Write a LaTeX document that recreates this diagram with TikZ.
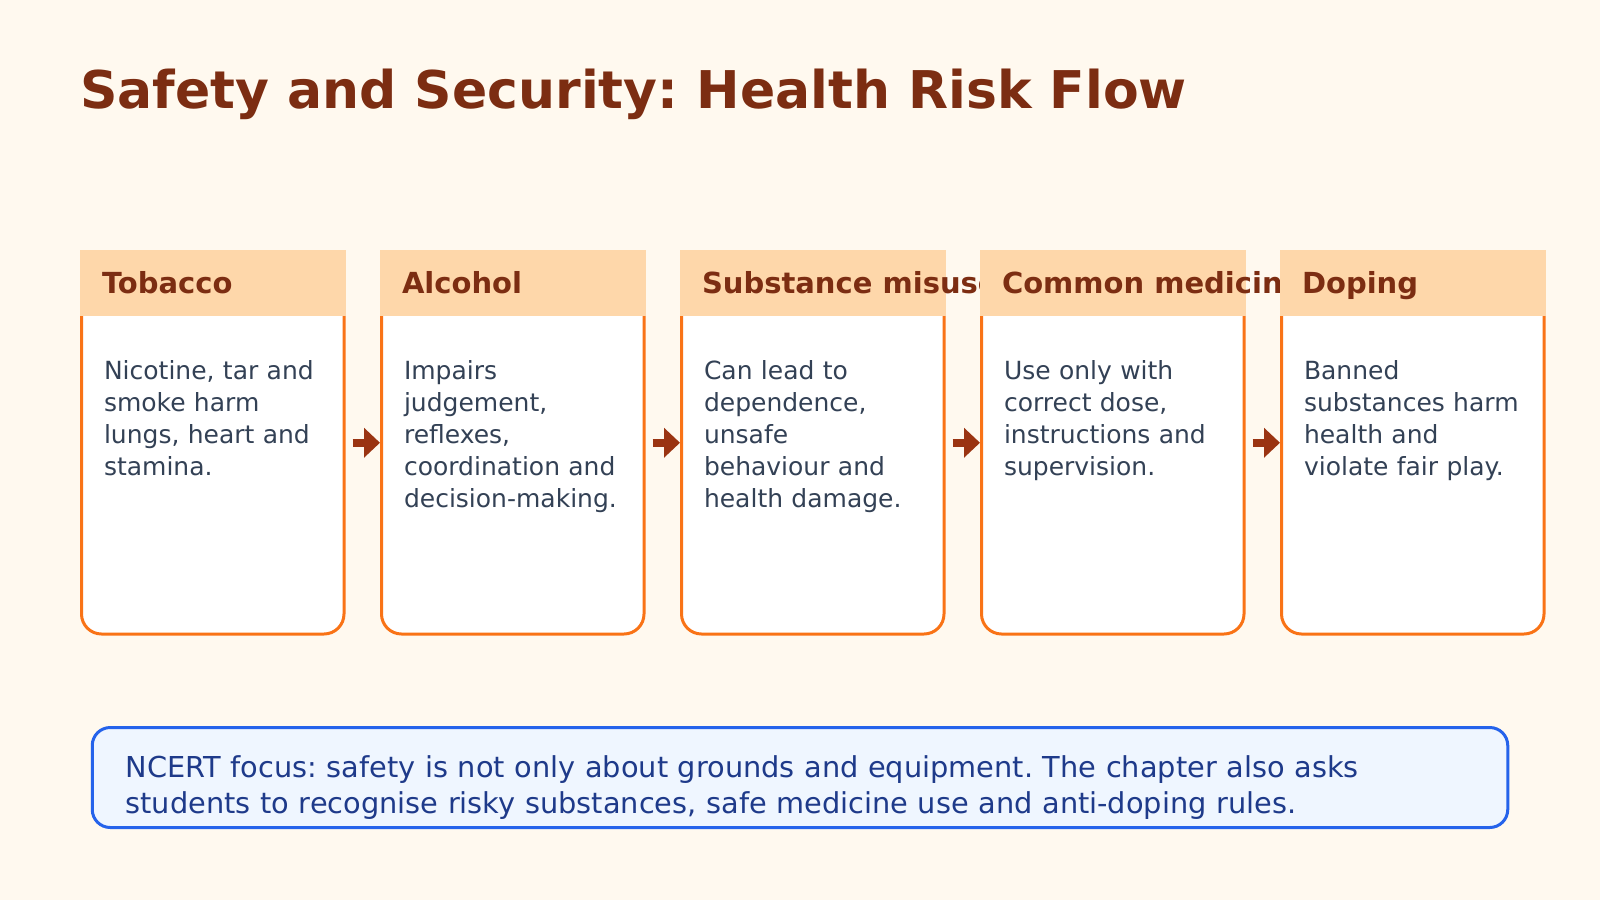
\documentclass[tikz,border=0pt]{standalone}
\usepackage{fontspec}
\setmainfont{DejaVu Sans}
\usetikzlibrary{positioning,arrows.meta}
\definecolor{paper}{HTML}{FFF9EF}
\definecolor{cardline}{HTML}{F97316}
\definecolor{headfill}{HTML}{FED7AA}
\definecolor{titlecol}{HTML}{7C2D12}
\definecolor{bodycol}{HTML}{334155}
\definecolor{arrowcol}{HTML}{9A3412}
\definecolor{notefill}{HTML}{EFF6FF}
\definecolor{noteline}{HTML}{2563EB}
\definecolor{notetextcol}{HTML}{1E3A8A}
\frenchspacing

\begin{document}
\begin{tikzpicture}[x=1pt, y=-1pt, node distance=34.5pt,
    card/.style={draw=cardline, line width=3pt, fill=white, rounded corners=20pt, minimum width=262.5pt, minimum height=382.5pt, inner sep=0pt},
    head/.style={fill=headfill, minimum width=265.5pt, minimum height=66pt, inner sep=0pt, anchor=north},
    headtext/.style={anchor=base west, inner sep=0pt, text=titlecol, font=\bfseries\fontsize{29}{34}\selectfont},
    bodytext/.style={anchor=base west, inner sep=0pt, text width=230pt, align=left, text=bodycol, font=\fontsize{25}{32}\selectfont},
    flow/.style={-{Triangle[length=16pt, width=29pt]}, line width=7.5pt, draw=arrowcol, shorten <=7pt}]
    \useasboundingbox[fill=paper] (0,0) rectangle (1600,900);

    % Title
    \node (Title) [anchor=base west, inner sep=0pt, text=titlecol, font=\bfseries\fontsize{52}{60}\selectfont] at (80,108) {Safety and Security: Health Risk Flow};

    % Nodes
    \node (Tobacco) [card] at (212.75,442.75) {};
    \node (TobaccoHead) [head] at (Tobacco.north) {};
    \node (TobaccoName) [headtext] at ([shift={(22,10)}]TobaccoHead.west) {Tobacco};
    \node (TobaccoText) [bodytext] at ([shift={(24,96)}]TobaccoHead.west) {Nicotine, tar and\\smoke harm\\lungs, heart and\\stamina.};

    \node (Alcohol) [card, right=of Tobacco] {};
    \node (AlcoholHead) [head] at (Alcohol.north) {};
    \node (AlcoholName) [headtext] at ([shift={(22,10)}]AlcoholHead.west) {Alcohol};
    \node (AlcoholText) [bodytext] at ([shift={(24,96)}]AlcoholHead.west) {Impairs\\judgement,\\reflexes,\\coordination and\\decision-making.};

    \node (Misuse) [card, right=of Alcohol] {};
    \node (MisuseHead) [head] at (Misuse.north) {};
    \node (MisuseName) [headtext] at ([shift={(22,10)}]MisuseHead.west) {Substance misuse};
    \node (MisuseText) [bodytext] at ([shift={(24,96)}]MisuseHead.west) {Can lead to\\dependence,\\unsafe\\behaviour and\\health damage.};

    \node (Medicine) [card, right=of Misuse] {};
    \node (MedicineHead) [head] at (Medicine.north) {};
    \node (MedicineName) [headtext] at ([shift={(22,10)}]MedicineHead.west) {Common medicines};
    \node (MedicineText) [bodytext] at ([shift={(24,96)}]MedicineHead.west) {Use only with\\correct dose,\\instructions and\\supervision.};

    \node (Doping) [card, right=of Medicine] {};
    \node (DopingHead) [head] at (Doping.north) {};
    \node (DopingName) [headtext] at ([shift={(22,10)}]DopingHead.west) {Doping};
    \node (DopingText) [bodytext] at ([shift={(24,96)}]DopingHead.west) {Banned\\substances harm\\health and\\violate fair play.};

    % Arrows
    \draw[flow] (Tobacco) -- (Alcohol);
    \draw[flow] (Alcohol) -- (Misuse);
    \draw[flow] (Misuse) -- (Medicine);
    \draw[flow] (Medicine) -- (Doping);

    % Note
    \node (Note) [draw=noteline, fill=notefill, line width=3pt, rounded corners=18pt, minimum width=1415.5pt, minimum height=100pt] at (800,777.5) {};
    \node (NoteText) [anchor=base west, inner sep=0pt, text width=1380pt, align=left, text=notetextcol, font=\fontsize{28.8}{36}\selectfont] at (125.5,777) {NCERT focus: safety is not only about grounds and equipment. The chapter also asks\\students to recognise risky substances, safe medicine use and anti-doping rules.};
\end{tikzpicture}
\end{document}
